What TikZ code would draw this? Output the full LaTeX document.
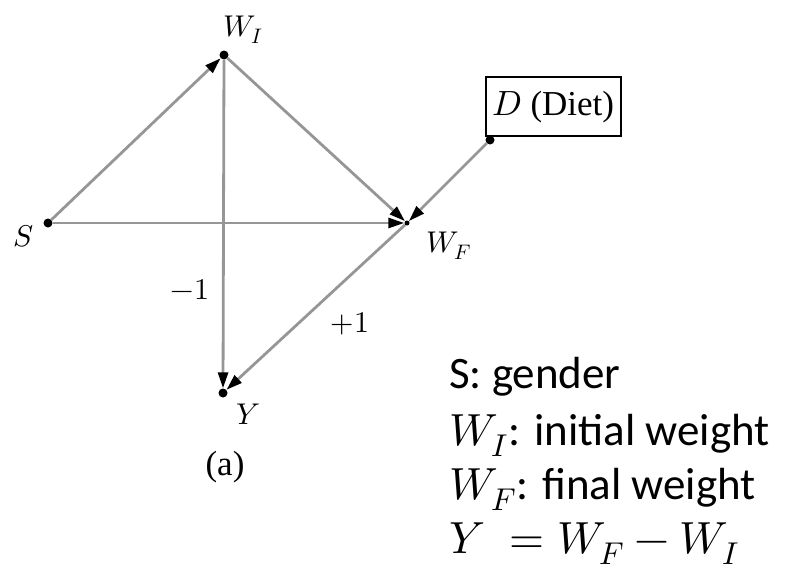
\documentclass[tikz,border=0pt]{standalone}
\usepackage{fontspec}
\usepackage{unicode-math}
\setmainfont{Liberation Serif}
\setmathfont{Latin Modern Math}
\newfontfamily\legendfont{Carlito}
\usepackage{tikz}
\usetikzlibrary{arrows.meta,calc,positioning}
\definecolor{edgegray}{RGB}{150,150,150}

\begin{document}
\begin{tikzpicture}[x=1pt, y=-1pt,
    var/.style={circle, fill=black, inner sep=0pt, minimum size=9pt},
    link/.style={draw=edgegray, line width=2.8pt, -{Triangle[color=black,length=16pt,width=10pt]}},
    lab/.style={font=\fontsize{30}{34}\selectfont, inner sep=0pt},
    legend/.style={font=\legendfont\fontsize{45}{54}\selectfont, anchor=base west, inner sep=0pt}]
  \useasboundingbox (0,0) rectangle (785,570);
  % variables
  \node[var] (S) at (48,223) {};
  \node[var] (WI) at (224,55) {};
  \node[var, minimum size=5pt] (WF) at (407,223) {};
  \node[var] (Y) at (223,393) {};
  \node[var] (D) at (490,140) {};
  % labels
  \node[lab] (Slab) at (24,236) {$S$};
  \node[lab] (WIlab) at (243,30) {$W_I$};
  \node[lab] (WFlab) at (449,246) {$W_F$};
  \node[lab] (Ylab) at (248,414) {$Y$};
  \node[lab, font=\fontsize{35}{40}\selectfont, draw, line width=1.8pt, minimum width=135pt, minimum height=59pt, anchor=south west] (Dlab) at (485,137) {$D$ (Diet)};
  \node[lab, font=\fontsize{35}{40}\selectfont] (cap) at (225,467) {(a)};
  \node[lab] (minus) at (190,290) {$-1$};
  \node[lab] (plus) at (350,324) {$+1$};
  % arrows
  \draw[link] (S) -- (WI);
  \draw[link] (S) -- (WF);
  \draw[link] (WI) -- (WF);
  \draw[link] (D) -- (WF);
  \draw[link] (WI) -- (Y);
  \draw[link] (WF) -- (Y);
  % legend
  \node[legend] (l1) at (449,388) {S: gender};
  \node[legend] (l2) at (449,445) {$W_I$: initial weight};
  \node[legend] (l3) at (449,499) {$W_F$: final weight};
  \node[legend] (l4) at (449,553) {$Y\;= W_F - W_I$};
\end{tikzpicture}
\end{document}
